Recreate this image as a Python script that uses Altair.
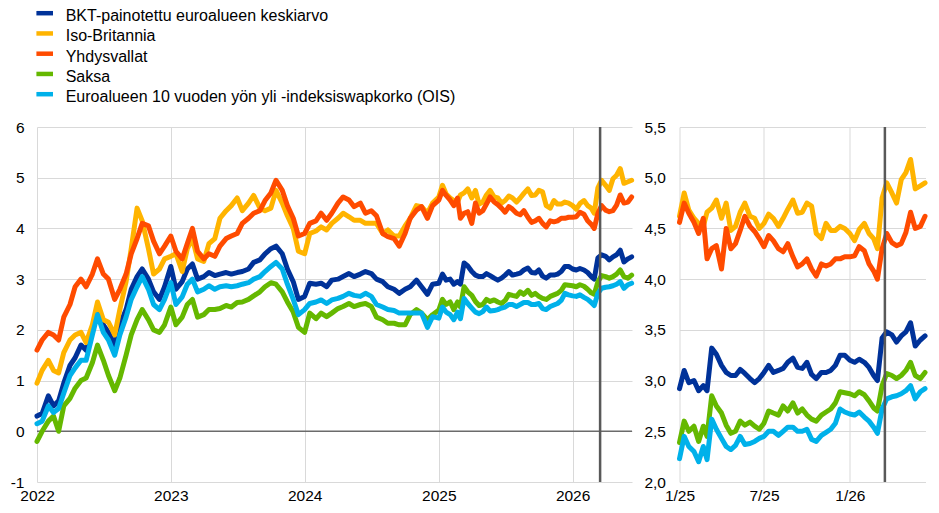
import altair as alt
import pandas as pd

FONT = "Liberation Sans"

SERIES = [
    "BKT-painotettu euroalueen keskiarvo",
    "Iso-Britannia",
    "Yhdysvallat",
    "Saksa",
    "Euroalueen 10 vuoden yön yli -indeksiswapkorko (OIS)",
]
COLORS = ["#003299", "#FFB400", "#FF4B00", "#65B800", "#00B1EA"]

# semi-monthly dates 2022-2024, ~10-day dates 2025-06/2026
dates_a = [f"{y}-{m:02d}-{d:02d}" for y in (2022, 2023, 2024) for m in range(1, 13) for d in (1, 15)]
months_b = [(2025, m) for m in range(1, 13)] + [(2026, m) for m in range(1, 7)]
dates_b = [f"{y}-{m:02d}-{d:02d}" for (y, m) in months_b for d in (1, 11, 21)][:53]

ea_a = [0.3, 0.35, 0.7, 0.5, 0.6, 0.95, 1.3, 1.45, 1.7, 1.6, 2.0, 2.45, 2.1, 1.95, 1.7, 2.1, 2.4, 2.8, 3.05, 3.2, 3.0, 2.75, 2.6, 2.85,
        3.25, 2.8, 2.95, 3.2, 3.3, 3.0, 3.05, 3.13, 3.07, 3.1, 3.13, 3.1, 3.13, 3.15, 3.2, 3.33, 3.38, 3.5, 3.6, 3.65, 3.5, 3.2, 2.95, 2.6,
        2.66, 2.92, 2.9, 2.92, 2.85, 2.98, 3.0, 3.05, 3.11, 3.05, 3.1, 3.15, 3.11, 3.0, 2.95, 2.85, 2.8, 2.72, 2.8, 2.85, 2.98, 2.85, 2.7, 2.9]
ea_b = [2.92, 3.1, 2.98, 3.0, 2.9, 2.95, 2.9, 3.32, 3.26, 3.15, 3.08, 3.05, 3.05, 3.11, 3.07, 3.02, 2.98, 3.02,
        3.08, 3.15, 3.08, 3.1, 3.12, 3.18, 3.22, 3.13, 3.12, 3.18, 3.06, 3.02, 3.08, 3.08, 3.1, 3.15, 3.25, 3.25,
        3.2, 3.18, 3.21, 3.18, 3.13, 3.05, 3.0, 3.42, 3.48, 3.45, 3.38, 3.44, 3.48, 3.57, 3.34, 3.4, 3.44]

uk_a = [0.95, 1.2, 1.4, 1.2, 1.15, 1.55, 1.8, 1.9, 1.95, 1.75, 2.1, 2.55, 2.2, 2.15, 1.9, 2.4, 2.95, 3.6, 4.4, 4.15, 3.6, 3.1, 3.2, 3.4,
        3.45, 3.5, 3.15, 3.6, 3.8, 3.4, 3.35, 3.7, 3.8, 4.2, 4.35, 4.45, 4.6, 4.35, 4.5, 4.65, 4.4, 4.35, 4.4, 4.75, 4.5, 4.25, 4.0, 3.55,
        3.5, 3.9, 3.95, 4.03, 3.97, 4.1, 4.2, 4.3, 4.23, 4.16, 4.16, 4.1, 4.1, 4.1, 3.9, 3.97, 3.85, 3.85, 4.05, 4.2, 4.45, 4.43, 4.3, 4.5]
uk_b = [4.62, 4.85, 4.68, 4.6, 4.55, 4.52, 4.66, 4.7, 4.78, 4.6, 4.75, 4.48, 4.52, 4.66, 4.75, 4.62, 4.6, 4.5,
        4.55, 4.64, 4.6, 4.52, 4.6, 4.69, 4.78, 4.65, 4.66, 4.75, 4.72, 4.45, 4.4, 4.55, 4.48, 4.48, 4.52, 4.5,
        4.45, 4.38, 4.49, 4.55, 4.45, 4.4, 4.3, 4.8, 4.95, 4.85, 4.75, 4.98, 5.05, 5.18, 4.89, 4.92, 4.95]

us_a = [1.6, 1.8, 1.95, 1.9, 1.8, 2.25, 2.5, 2.85, 3.0, 2.85, 3.1, 3.4, 3.1, 3.0, 2.6, 2.8, 3.1, 3.5, 3.8, 4.1, 4.05, 3.75, 3.5, 3.65,
        3.85, 3.55, 3.4, 3.7, 4.0, 3.55, 3.4, 3.5, 3.45, 3.65, 3.8, 3.85, 3.9, 4.1, 4.2, 4.3, 4.35, 4.55, 4.7, 4.95, 4.75, 4.45, 4.2, 3.85,
        3.9, 4.1, 4.15, 4.3, 4.16, 4.3, 4.5, 4.62, 4.56, 4.43, 4.5, 4.3, 4.35, 4.25, 3.9, 3.84, 3.8, 3.65, 3.9, 4.2, 4.36, 4.43, 4.2, 4.45]
us_b = [4.56, 4.75, 4.65, 4.56, 4.45, 4.6, 4.2, 4.3, 4.33, 4.1, 4.5, 4.3, 4.35, 4.48, 4.62, 4.52, 4.47, 4.4,
        4.32, 4.43, 4.38, 4.3, 4.27, 4.35, 4.22, 4.12, 4.15, 4.2, 4.1, 4.03, 4.15, 4.13, 4.15, 4.2, 4.2, 4.22,
        4.22, 4.23, 4.32, 4.28, 4.15, 4.08, 4.0, 4.3, 4.45, 4.36, 4.33, 4.35, 4.46, 4.66, 4.5, 4.52, 4.62]

de_a = [-0.2, 0.0, 0.2, 0.3, 0.0, 0.5, 0.65, 0.85, 1.0, 1.05, 1.35, 1.7, 1.4, 1.1, 0.8, 1.05, 1.5, 1.9, 2.2, 2.4, 2.2, 2.0, 1.95, 2.1,
        2.45, 2.1, 2.25, 2.5, 2.6, 2.25, 2.3, 2.4, 2.4, 2.42, 2.48, 2.45, 2.54, 2.55, 2.6, 2.67, 2.75, 2.85, 2.93, 2.9, 2.75, 2.55, 2.35, 2.05,
        1.95, 2.33, 2.22, 2.33, 2.26, 2.33, 2.42, 2.46, 2.52, 2.46, 2.5, 2.52, 2.46, 2.25, 2.2, 2.13, 2.13, 2.1, 2.1, 2.3, 2.4, 2.33, 2.2, 2.3]
de_b = [2.39, 2.6, 2.5, 2.55, 2.4, 2.55, 2.45, 2.85, 2.75, 2.68, 2.56, 2.48, 2.5, 2.6, 2.56, 2.59, 2.55, 2.52,
        2.58, 2.7, 2.68, 2.66, 2.75, 2.7, 2.78, 2.68, 2.72, 2.66, 2.62, 2.6, 2.66, 2.69, 2.72, 2.78, 2.89, 2.88,
        2.87, 2.85, 2.89, 2.86, 2.8, 2.73, 2.7, 2.95, 3.07, 3.05, 3.02, 3.05, 3.1, 3.18, 3.05, 3.02, 3.08]

ois_a = [0.15, 0.2, 0.5, 0.37, 0.45, 0.75, 1.1, 1.25, 1.4, 1.4, 1.9, 2.3, 1.95, 1.8, 1.5, 1.9, 2.25, 2.6, 2.85, 3.05, 2.8, 2.5, 2.4, 2.6,
         2.93, 2.5, 2.65, 2.9, 3.0, 2.75, 2.8, 2.87, 2.8, 2.85, 2.87, 2.85, 2.87, 2.9, 2.93, 3.0, 3.05, 3.15, 3.25, 3.33, 3.2, 2.9, 2.6, 2.3,
         2.4, 2.52, 2.55, 2.59, 2.52, 2.59, 2.62, 2.66, 2.72, 2.68, 2.66, 2.72, 2.66, 2.5, 2.45, 2.4, 2.38, 2.33, 2.33, 2.33, 2.33, 2.33, 2.05, 2.26]
ois_b = [2.23, 2.45, 2.35, 2.3, 2.2, 2.35, 2.22, 2.62, 2.52, 2.43, 2.35, 2.32, 2.36, 2.45, 2.37, 2.38, 2.4, 2.43,
         2.45, 2.5, 2.5, 2.46, 2.5, 2.54, 2.54, 2.5, 2.5, 2.52, 2.42, 2.4, 2.46, 2.49, 2.52, 2.58, 2.72, 2.69,
         2.67, 2.66, 2.69, 2.64, 2.6, 2.54, 2.48, 2.72, 2.82, 2.84, 2.85, 2.87, 2.9, 2.95, 2.82, 2.89, 2.92]

MARKER_DATE = "2026-03-17"
LEFT_Y_TICKS = [-1, 0, 1, 2, 3, 4, 5, 6]
RIGHT_Y_TICKS = [2.0, 2.5, 3.0, 3.5, 4.0, 4.5, 5.0, 5.5]

dates = dates_a + dates_b
values = [ea_a + ea_b, uk_a + uk_b, us_a + us_b, de_a + de_b, ois_a + ois_b]
rows = []
for i, (name, vals) in enumerate(zip(SERIES, values)):
    for d, v in zip(dates, vals):
        rows.append({"date": d, "series": name, "value": v, "k": i})
df = pd.DataFrame(rows)
df_right = df[df["date"] >= "2025-01-01"]
legend_df = pd.DataFrame({"series": SERIES})


def dt(y, m, d):
    return alt.DateTime(year=y, month=m, date=d, utc=True)


color_scale = alt.Scale(domain=SERIES, range=COLORS)
color = alt.Color("series:N", scale=color_scale, sort=SERIES, legend=None)

line_kw = dict(strokeWidth=5, strokeCap="round", strokeJoin="round")
PLOT_H = 355

x_left = alt.X(
    "date:T",
    scale=alt.Scale(type="utc", domain=[dt(2022, 1, 1), dt(2026, 6, 12)]),
    axis=alt.Axis(values=[dt(y, 1, 1) for y in range(2022, 2027)], labelExpr="utcFormat(datum.value, '%Y')",
                  title=None, labelFlush=False, labelPadding=6),
)
y_left = alt.Y(
    "value:Q",
    scale=alt.Scale(domain=[-1, 6], nice=False, zero=False),
    axis=alt.Axis(values=LEFT_Y_TICKS, title=None, labelPadding=13,
                  labelExpr="datum.value < 0 ? '-' + abs(datum.value) : '' + datum.value"),
)

left_lines = alt.Chart(df).mark_line(**line_kw).encode(x=x_left, y=y_left, color=color, detail="k:N")
zero_rule = alt.Chart(pd.DataFrame({"v": [0]})).mark_rule(color="#6b6b6b", strokeWidth=1.5).encode(y="v:Q")
vline = alt.Chart(pd.DataFrame({"date": [MARKER_DATE]})).mark_rule(color="#595959", strokeWidth=2.5).encode(x="date:T")

# legend drawn above the left plot (rows placed by a point scale)
leg_y = alt.Y("series:N", scale=alt.Scale(type="point", domain=SERIES, range=[-111, -30], padding=0), axis=None)
leg_swatch = alt.Chart(legend_df).mark_rule(strokeWidth=4.5, yOffset=-2.8).encode(
    x=alt.value(-0.6), x2=alt.value(16), y=leg_y, color=color)
leg_text = alt.Chart(legend_df).mark_text(align="left", baseline="middle", fontSize=16, font=FONT, color="#000000").encode(
    x=alt.value(28.7), y=leg_y, text="series:N")

left_plot = alt.layer(zero_rule, left_lines, vline)
left = alt.layer(left_plot, leg_swatch, leg_text).resolve_scale(y="independent").properties(width=595, height=PLOT_H)

x_right = alt.X(
    "date:T",
    scale=alt.Scale(type="utc", domain=[dt(2025, 1, 1), dt(2026, 6, 12)]),
    axis=alt.Axis(values=[dt(2025, 1, 1), dt(2025, 7, 1), dt(2026, 1, 1)],
                  labelExpr="utcFormat(datum.value, '%-m/%y')", title=None, labelFlush=False, labelPadding=6),
)
y_right = alt.Y(
    "value:Q",
    scale=alt.Scale(domain=[2.0, 5.5], nice=False, zero=False),
    axis=alt.Axis(values=RIGHT_Y_TICKS, title=None, labelPadding=14,
                  labelExpr="replace(format(datum.value, '.1f'), '.', ',')"),
)
right_lines = alt.Chart(df_right).mark_line(**line_kw).encode(x=x_right, y=y_right, color=color, detail="k:N")
right = alt.layer(right_lines, vline).properties(width=246, height=PLOT_H)

chart = (
    alt.hconcat(left, right, spacing=8.5)
    .resolve_scale(x="independent", y="independent", color="shared")
    .properties(padding={"left": 2, "top": 0, "right": 0, "bottom": 0})
    .configure_view(strokeWidth=0)
    .configure_axis(grid=True, gridColor="#d9d9d9", gridWidth=1, domain=False, ticks=False,
                    labelFont=FONT, labelFontSize=15.5, labelColor="#000000")
)

chart.save("out.html", embed_options={"renderer": "svg", "actions": False})
